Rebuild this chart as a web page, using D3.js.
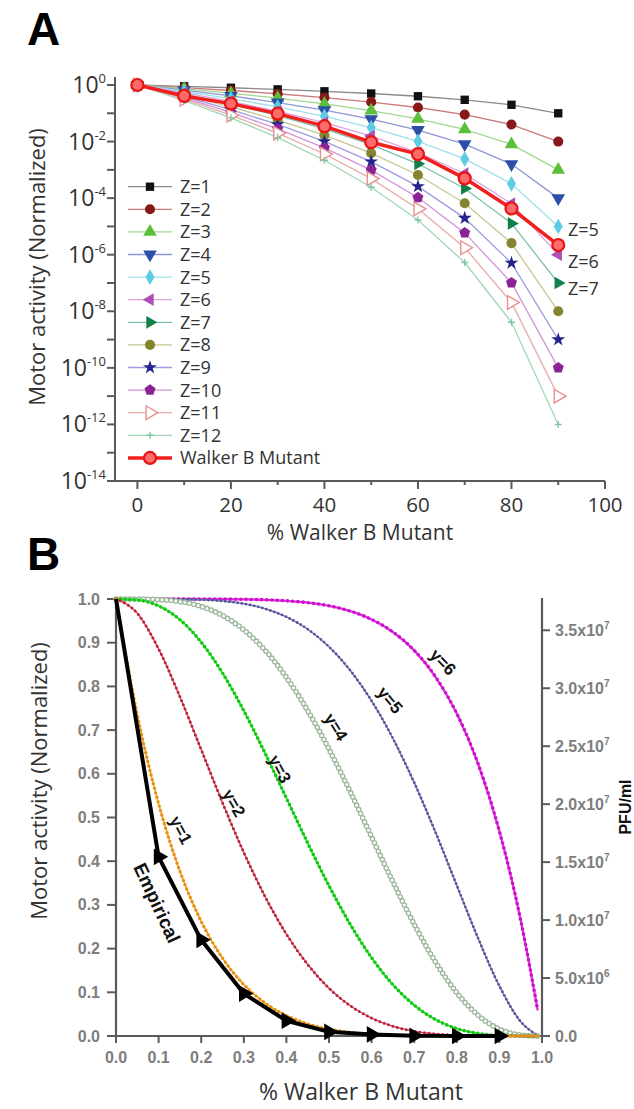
<!DOCTYPE html>
<html><head><meta charset="utf-8">
<script src="https://cdn.jsdelivr.net/npm/d3@7"></script>
<style>body{margin:0;background:#fff}svg{display:block}</style>
</head><body>
<svg id="c" width="634" height="1109"></svg>
<script>
// ================= Panel A data =================
const pctA = [0, 10, 20, 30, 40, 50, 60, 70, 80, 90];
const zNames = ["Z=1","Z=2","Z=3","Z=4","Z=5","Z=6","Z=7","Z=8","Z=9","Z=10","Z=11","Z=12"];
const z1  = [1, 0.9,   0.8,    0.7,    0.6,     0.5,     0.4,     0.3,     0.2,     0.1];
const z2  = [1, 0.81,  0.64,   0.49,   0.36,    0.25,    0.16,    0.09,    0.04,    0.01];
const z3  = [1, 0.729, 0.512,  0.343,  0.216,   0.125,   0.064,   0.027,   0.008,   1e-3];
const z4  = [1, 0.656, 0.41,   0.24,   0.13,    0.0625,  0.0256,  0.0081,  1.6e-3,  1e-4];
const z5  = [1, 0.59,  0.328,  0.168,  0.0778,  0.0313,  0.0102,  2.43e-3, 3.2e-4,  1e-5];
const z6  = [1, 0.531, 0.262,  0.118,  0.0467,  0.0156,  4.1e-3,  7.3e-4,  6.4e-5,  1e-6];
const z7  = [1, 0.478, 0.21,   0.0824, 0.028,   7.8e-3,  1.64e-3, 2.19e-4, 1.28e-5, 1e-7];
const z8  = [1, 0.43,  0.168,  0.0576, 0.0168,  3.9e-3,  6.6e-4,  6.6e-5,  2.56e-6, 1e-8];
const z9  = [1, 0.387, 0.134,  0.0404, 0.0101,  1.95e-3, 2.6e-4,  1.97e-5, 5.1e-7,  1e-9];
const z10 = [1, 0.349, 0.107,  0.0282, 6.0e-3,  9.8e-4,  1.05e-4, 5.9e-6,  1.02e-7, 1e-10];
const z11 = [1, 0.314, 0.0859, 0.0198, 3.63e-3, 4.9e-4,  4.2e-5,  1.77e-6, 2.05e-8, 1e-11];
const z12 = [1, 0.282, 0.0687, 0.0138, 2.18e-3, 2.44e-4, 1.68e-5, 5.3e-7,  4.1e-9,  1e-12];
const walkerB = [1, 0.41, 0.22, 0.097, 0.035, 0.0095, 0.0036, 5.0e-4, 4.3e-5, 2.2e-6];
const yExpA = [0, -1, -2, -3, -4, -5, -6, -7, -8, -9, -10, -11, -12, -13, -14];
const xTicksA = [0, 20, 40, 60, 80, 100];
const xMinorA = [10, 30, 50, 70, 90];
const endLabelsA = ["Z=5", "Z=6", "Z=7"];

// ================= Panel B data =================
const fracB = [0, 0.05, 0.1, 0.15, 0.2, 0.25, 0.3, 0.35, 0.4, 0.45, 0.5, 0.55, 0.6, 0.65, 0.7, 0.75, 0.8, 0.85, 0.9, 0.95, 0.99];
const yEq1 = [1, .7351, .5314, .3771, .2621, .1780, .1176, .0754, .0467, .0277, .0156, .0083, .0041, .0018, .0007, .0002, .0001, 0, 0, 0, 0];
const yEq2 = [1, .9672, .8857, .7765, .6554, .5339, .4202, .3191, .2333, .1636, .1094, .0692, .0410, .0223, .0109, .0046, .0016, .0004, .0001, 0, 0];
const yEq3 = [1, .9978, .9842, .9527, .9011, .8306, .7443, .6471, .5443, .4415, .3438, .2553, .1792, .1174, .0705, .0376, .0170, .0059, .0013, .0001, 0];
const yEq4 = [1, .9999, .9987, .9941, .9830, .9624, .9295, .8826, .8208, .7447, .6563, .5585, .4557, .3529, .2557, .1694, .0989, .0473, .0159, .0022, 0];
const yEq5 = [1, 1, .9999, .9996, .9984, .9954, .9891, .9777, .9590, .9308, .8906, .8364, .7667, .6809, .5798, .4661, .3446, .2235, .1143, .0328, .0015];
const yEq6 = [1, 1, 1, 1, .9999, .9998, .9993, .9982, .9959, .9917, .9844, .9723, .9533, .9246, .8824, .8220, .7379, .6229, .4686, .2649, .0585];
const curveNamesB = ["y=1", "y=2", "y=3", "y=4", "y=5", "y=6"];
const empiricalX = [0, 0.1, 0.2, 0.3, 0.4, 0.5, 0.6, 0.7, 0.8, 0.9];
const empiricalY = walkerB;
const xTicksB = [0, 0.1, 0.2, 0.3, 0.4, 0.5, 0.6, 0.7, 0.8, 0.9, 1.0];
const yTicksB = [0, 0.1, 0.2, 0.3, 0.4, 0.5, 0.6, 0.7, 0.8, 0.9, 1.0];
const rightTicks = [0, 5e6, 1e7, 1.5e7, 2e7, 2.5e7, 3e7, 3.5e7];
const rightTickMant = ["0.0", "5.0x10", "1.0x10", "1.5x10", "2.0x10", "2.5x10", "3.0x10", "3.5x10"];
const rightTickExp = ["", "6", "7", "7", "7", "7", "7", "7"];

// ================= drawing =================
const svg = d3.select("#c");
const FA = "'Open Sans', 'Noto Sans', sans-serif";
const FB = "'Liberation Sans', Arial, sans-serif";

// ---------- Panel A ----------
const xA = d3.scaleLinear().domain([-5, 100]).range([114, 605]);
const yA = d3.scaleLog().domain([1e-14, 1]).range([481, 85]);
const gA = svg.append("g");
const axisCol = "#5a5a5a";

svg.append("text").attr("x", 27).attr("y", 45).attr("font-family", FB).attr("font-weight", "bold")
  .attr("font-size", 46).attr("fill", "#000").text("A");

gA.append("line").attr("x1", 115).attr("x2", 115).attr("y1", 77).attr("y2", yA(1e-14)).attr("stroke", axisCol).attr("stroke-width", 2);
gA.append("line").attr("x1", 114).attr("x2", xA(100)).attr("y1", yA(1e-14)).attr("y2", yA(1e-14)).attr("stroke", axisCol).attr("stroke-width", 2);

gA.selectAll(".ytA").data(yExpA).join("line")
  .attr("x1", 107).attr("x2", 115)
  .attr("y1", d => yA(Math.pow(10, d))).attr("y2", d => yA(Math.pow(10, d)))
  .attr("stroke", axisCol).attr("stroke-width", 2);
const yLab = gA.selectAll(".ylA").data(yExpA.filter(d => d % 2 === 0)).join("text")
  .attr("x", 106).attr("y", d => yA(Math.pow(10, d)) + 8)
  .attr("text-anchor", "end").attr("font-family", FA).attr("font-size", 23).attr("fill", "#333");
yLab.append("tspan").text("10");
yLab.append("tspan").attr("dy", -10).attr("font-size", 13).text(d => d === 0 ? "0" : "-" + Math.abs(d));

gA.selectAll(".xtA").data(xTicksA).join("line")
  .attr("x1", d => xA(d)).attr("x2", d => xA(d)).attr("y1", yA(1e-14)).attr("y2", yA(1e-14) + 8)
  .attr("stroke", axisCol).attr("stroke-width", 2);
gA.selectAll(".xmA").data(xMinorA).join("line")
  .attr("x1", d => xA(d)).attr("x2", d => xA(d)).attr("y1", yA(1e-14)).attr("y2", yA(1e-14) + 4)
  .attr("stroke", axisCol).attr("stroke-width", 2);
gA.selectAll(".xlA").data(xTicksA).join("text")
  .attr("x", d => xA(d)).attr("y", 511.5).attr("text-anchor", "middle")
  .attr("font-family", FA).attr("font-size", 20.5).attr("fill", "#333").text(d => d);

gA.append("text").attr("x", 360).attr("y", 540).attr("text-anchor", "middle")
  .attr("font-family", FA).attr("font-size", 21).attr("fill", "#333").text("% Walker B Mutant");
gA.append("text").attr("transform", "translate(45,267) rotate(-90)").attr("text-anchor", "middle")
  .attr("font-family", FA).attr("font-size", 22).attr("fill", "#333").text("Motor activity (Normalized)");

const pentagon = { draw(ctx, size) {
  const r = Math.sqrt(size / 2.378);
  for (let i = 0; i < 5; i++) {
    const a = -Math.PI / 2 + i * 2 * Math.PI / 5;
    const px = r * Math.cos(a), py = r * Math.sin(a);
    if (i === 0) ctx.moveTo(px, py); else ctx.lineTo(px, py);
  }
  ctx.closePath();
}};
const plusThin = { draw(ctx, size) {
  const r = Math.sqrt(size) / 2;
  ctx.moveTo(-r, 0); ctx.lineTo(r, 0); ctx.moveTo(0, -r); ctx.lineTo(0, r);
}};
const zStyle = [
  { type: d3.symbolSquare,   rot: 0,   size: 70, fill: "#111111", line: "#8a8a8a" },
  { type: d3.symbolCircle,   rot: 0,   size: 80, fill: "#861818", line: "#cc7b7b" },
  { type: d3.symbolTriangle, rot: 0,   size: 80, fill: "#5cbf3a", line: "#9fd68e" },
  { type: d3.symbolTriangle, rot: 180, size: 80, fill: "#2b4ea8", line: "#8d96d6" },
  { type: d3.symbolDiamond,  rot: 0,   size: 70, fill: "#5ccbe4", line: "#9fdfec" },
  { type: d3.symbolTriangle, rot: -90, size: 70, fill: "#b050b6", line: "#e0a2e0" },
  { type: d3.symbolTriangle, rot: 90,  size: 70, fill: "#10804a", line: "#7cc2a8" },
  { type: d3.symbolCircle,   rot: 0,   size: 80, fill: "#84852e", line: "#c6c692" },
  { type: d3.symbolStar,     rot: 0,   size: 60, fill: "#23238a", line: "#9c9ce0" },
  { type: pentagon,          rot: 0,   size: 80, fill: "#8a2496", line: "#d492da" },
  { type: d3.symbolTriangle, rot: 90,  size: 80, fill: "#ffffff", line: "#e8aaaa", stroke: "#e89090" },
  { type: plusThin,          rot: 0,   size: 50, fill: "none",    line: "#a0d6b4", stroke: "#80c8a0" }
];
const zSeries = [z1, z2, z3, z4, z5, z6, z7, z8, z9, z10, z11, z12];
const lineA = d3.line().x((d, i) => xA(pctA[i])).y(d => yA(d));

function drawMarker(g, st, x, y) {
  const p = g.append("path").attr("d", d3.symbol().type(st.type).size(st.size)())
    .attr("transform", `translate(${x},${y}) rotate(${st.rot})`);
  if (st.stroke) p.attr("fill", st.fill).attr("stroke", st.stroke).attr("stroke-width", 1.4);
  else p.attr("fill", st.fill);
}

zSeries.forEach((vals, k) => {
  const st = zStyle[k];
  gA.append("path").attr("d", lineA(vals)).attr("fill", "none").attr("stroke", st.line).attr("stroke-width", 1.3);
});
zSeries.forEach((vals, k) => {
  const st = zStyle[k];
  vals.forEach((v, i) => drawMarker(gA, st, xA(pctA[i]), yA(v)));
});
gA.append("path").attr("d", lineA(walkerB)).attr("fill", "none").attr("stroke", "#f02020").attr("stroke-width", 3.5);
gA.selectAll(".wb").data(walkerB).join("circle")
  .attr("cx", (d, i) => xA(pctA[i])).attr("cy", d => yA(d)).attr("r", 6)
  .attr("fill", "#ff6a6a").attr("stroke", "#e81414").attr("stroke-width", 2.2);

// legend
const legY0 = 186.7, legDy = 22.6;
zNames.forEach((n, k) => {
  const st = zStyle[k], y = legY0 + k * legDy;
  gA.append("line").attr("x1", 128).attr("x2", 172).attr("y1", y).attr("y2", y).attr("stroke", st.line).attr("stroke-width", 1.3);
  drawMarker(gA, st, 150, y);
  gA.append("text").attr("x", 180).attr("y", y + 6.5).attr("font-family", FA).attr("font-size", 18).attr("fill", "#333").text(n);
});
{
  const y = legY0 + 12 * legDy;
  gA.append("line").attr("x1", 128).attr("x2", 172).attr("y1", y).attr("y2", y).attr("stroke", "#f02020").attr("stroke-width", 3.5);
  gA.append("circle").attr("cx", 150).attr("cy", y).attr("r", 6).attr("fill", "#ff6a6a").attr("stroke", "#e81414").attr("stroke-width", 2.2);
  gA.append("text").attr("x", 180).attr("y", y + 6.5).attr("font-family", FA).attr("font-size", 18).attr("fill", "#333").text("Walker B Mutant");
}
const endSeries = [z5, z6, z7];
const endOff = [3, 7, 5];
endLabelsA.forEach((n, i) => {
  gA.append("text").attr("x", 568).attr("y", yA(endSeries[i][9]) + 6.5 + endOff[i])
    .attr("font-family", FA).attr("font-size", 18).attr("fill", "#333").text(n);
});

// ---------- Panel B ----------
svg.append("text").attr("x", 27).attr("y", 570).attr("font-family", FB).attr("font-weight", "bold")
  .attr("font-size", 46).attr("fill", "#000").text("B");
const xB = d3.scaleLinear().domain([0, 1]).range([116, 542]);
const yB = d3.scaleLinear().domain([0, 1]).range([1036, 599]);
const yR = d3.scaleLinear().domain([0, 3.77e7]).range([1036, 599]);
const gB = svg.append("g");
const tickCol = "#7d7d7d";

gB.append("line").attr("x1", xB(0)).attr("x2", xB(0)).attr("y1", yB(1)).attr("y2", yB(0)).attr("stroke", axisCol).attr("stroke-width", 2.2);
gB.append("line").attr("x1", xB(0) - 1).attr("x2", xB(1) + 1).attr("y1", yB(0)).attr("y2", yB(0)).attr("stroke", axisCol).attr("stroke-width", 2.2);
gB.append("line").attr("x1", xB(1)).attr("x2", xB(1)).attr("y1", 598).attr("y2", yB(0)).attr("stroke", axisCol).attr("stroke-width", 2.2);

gB.selectAll(".ytB").data(yTicksB).join("line")
  .attr("x1", 107).attr("x2", xB(0)).attr("y1", d => yB(d)).attr("y2", d => yB(d)).attr("stroke", axisCol).attr("stroke-width", 2);
gB.selectAll(".ylB").data(yTicksB).join("text")
  .attr("x", 100).attr("y", d => yB(d) + 5.5).attr("text-anchor", "end")
  .attr("font-family", FB).attr("font-weight", "bold").attr("font-size", 16).attr("fill", tickCol).text(d => d.toFixed(1));
gB.selectAll(".xtB").data(xTicksB).join("line")
  .attr("x1", d => xB(d)).attr("x2", d => xB(d)).attr("y1", yB(0)).attr("y2", yB(0) + 7).attr("stroke", axisCol).attr("stroke-width", 2);
gB.selectAll(".xlB").data(xTicksB).join("text")
  .attr("x", d => xB(d)).attr("y", 1063).attr("text-anchor", "middle")
  .attr("font-family", FB).attr("font-weight", "bold").attr("font-size", 16).attr("fill", tickCol).text(d => d.toFixed(1));
gB.selectAll(".rtB").data(rightTicks).join("line")
  .attr("x1", xB(1)).attr("x2", xB(1) + 8).attr("y1", d => yR(d)).attr("y2", d => yR(d)).attr("stroke", axisCol).attr("stroke-width", 2);
const rl = gB.selectAll(".rlB").data(rightTicks).join("text")
  .attr("x", 555).attr("y", d => yR(d) + 5.5)
  .attr("font-family", FB).attr("font-weight", "bold").attr("font-size", 16).attr("fill", tickCol);
rl.append("tspan").text((d, i) => rightTickMant[i]);
rl.append("tspan").attr("dy", -7).attr("font-size", 10).text((d, i) => rightTickExp[i]);

gB.append("text").attr("transform", "translate(631,807) rotate(-90)").attr("text-anchor", "middle")
  .attr("font-family", FB).attr("font-weight", "bold").attr("font-size", 16).attr("fill", "#111").text("PFU/ml");
gB.append("text").attr("transform", "translate(47,781) rotate(-90)").attr("text-anchor", "middle")
  .attr("font-family", FA).attr("font-size", 22).attr("fill", "#333").text("Motor activity (Normalized)");
gB.append("text").attr("x", 361).attr("y", 1100).attr("text-anchor", "middle")
  .attr("font-family", FA).attr("font-size", 23).attr("fill", "#333").text("% Walker B Mutant");

const curvesB = [yEq1, yEq2, yEq3, yEq4, yEq5, yEq6];
const cStyle = [
  { line: "#f4a640", lw: 1.6, dot: "#e8900c", dw: 3.4, gap: 4.6 },
  { line: "#e04a5a", lw: 1.5, dot: "#b52540", dw: 3.0, gap: 4.6 },
  { line: "#38e038", lw: 1.8, dot: "#12c812", dw: 3.6, gap: 4.6 },
  { line: "#b4ccb4", lw: 1.0, dot: "#9cb89c", dw: 5.6, gap: 4.6, ring: true },
  { line: "#7c7ab8", lw: 1.5, dot: "#55559a", dw: 2.8, gap: 4.2 },
  { line: "#e030e0", lw: 2.3, dot: "#cc10cc", dw: 3.6, gap: 5.2 }
];
const lineB = d3.line().x((d, i) => xB(fracB[i])).y(d => yB(d)).curve(d3.curveMonotoneX);
for (let k = 5; k >= 0; k--) {
  const st = cStyle[k], d = lineB(curvesB[k]);
  gB.append("path").attr("d", d).attr("fill", "none").attr("stroke", st.line).attr("stroke-width", st.lw);
  gB.append("path").attr("d", d).attr("fill", "none").attr("stroke", st.dot).attr("stroke-width", st.dw)
    .attr("stroke-linecap", "round").attr("stroke-dasharray", `0 ${st.gap}`);
  if (st.ring) gB.append("path").attr("d", d).attr("fill", "none").attr("stroke", "#fff").attr("stroke-width", st.dw - 2.6)
    .attr("stroke-linecap", "round").attr("stroke-dasharray", `0 ${st.gap}`);
}
const lineE = d3.line().x((d, i) => xB(empiricalX[i])).y(d => yB(d));
gB.append("path").attr("d", lineE(empiricalY)).attr("fill", "none").attr("stroke", "#000").attr("stroke-width", 4).attr("stroke-linejoin", "round");
gB.selectAll(".emp").data(empiricalY.slice(1)).join("path")
  .attr("d", d3.symbol().type(d3.symbolTriangle).size(120)())
  .attr("transform", (d, i) => `translate(${xB(empiricalX[i + 1])},${yB(d)}) rotate(90)`)
  .attr("fill", "#000");

const labB = [
  { t: "y=1", x: 181, y: 830, a: 62, s: 17 },
  { t: "y=2", x: 234, y: 803, a: 60, s: 17 },
  { t: "y=3", x: 280, y: 769, a: 62, s: 17 },
  { t: "y=4", x: 336, y: 727, a: 58, s: 17 },
  { t: "y=5", x: 390, y: 700, a: 50, s: 17 },
  { t: "y=6", x: 443, y: 662, a: 46, s: 17 },
  { t: "Empirical", x: 157, y: 903, a: 65, s: 19 }
];
labB.forEach(l => {
  gB.append("text").attr("transform", `translate(${l.x},${l.y}) rotate(${l.a})`)
    .attr("text-anchor", "middle").attr("dy", "0.35em")
    .attr("font-family", FB).attr("font-weight", "bold").attr("font-size", l.s).attr("fill", "#111").text(l.t);
});
</script>
</body></html>
